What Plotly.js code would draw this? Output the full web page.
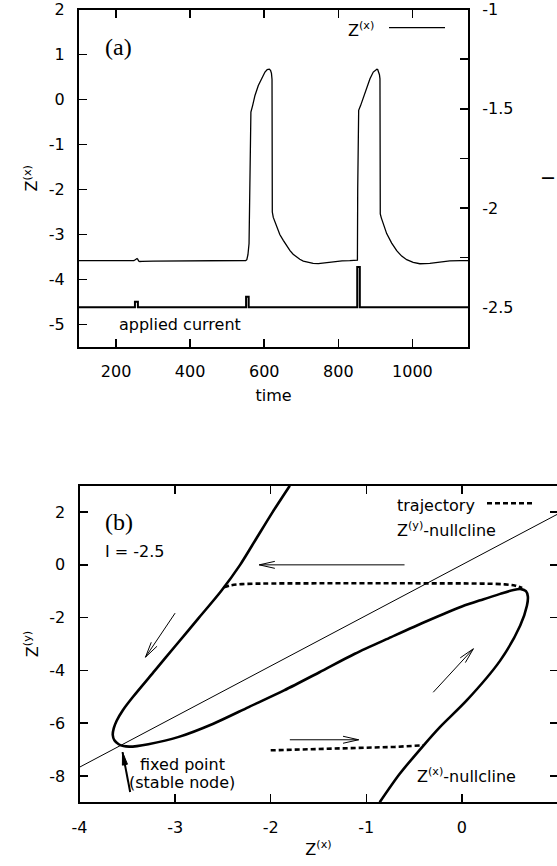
<!DOCTYPE html>
<html><head><meta charset="utf-8">
<script src="https://cdn.plot.ly/plotly-3.0.1.min.js"></script>
<style>html,body{margin:0;padding:0;overflow:hidden;background:#fff}#chart{width:560px;height:866px}</style>
</head><body><div id="chart"></div>
<script>
// ---------- panel (a): Z^(x) time series ----------
const timeZ = [100,200,248,252,254.5,256.5,258.5,261,264,270,300,400,500,550,553,556,559,561,562.5,564,568.8,575,584,593,602,608,613.6,617,619.5,621,621.5,621.8,624.4,633.6,642,651.4,660,669.5,678,687.6,696,705.4,718,732,746,760,786,810,831,848,851.5,852.3,853,854.9,860.3,867.4,876.5,885.4,894.3,900.8,904,906.2,909,911,912.4,912.9,913.2,916,921.3,930.5,944,957.5,971,984.5,1002,1020,1047,1074,1101,1130,1150];
const zx    = [-3.58,-3.58,-3.58,-3.56,-3.54,-3.535,-3.55,-3.59,-3.60,-3.595,-3.59,-3.585,-3.58,-3.578,-3.56,-3.45,-3.2,-2.0,-0.40,-0.28,-0.13,0.09,0.31,0.48,0.61,0.667,0.674,0.65,0.58,0.45,-1.0,-2.50,-2.62,-2.84,-3.0,-3.13,-3.25,-3.36,-3.44,-3.50,-3.55,-3.59,-3.62,-3.64,-3.645,-3.63,-3.60,-3.585,-3.58,-3.575,-3.57,-2.0,-0.32,-0.24,-0.13,0.05,0.27,0.46,0.61,0.667,0.675,0.667,0.62,0.55,0.46,-1.0,-2.54,-2.63,-2.76,-2.98,-3.19,-3.36,-3.48,-3.56,-3.62,-3.65,-3.64,-3.61,-3.585,-3.58,-3.58];
// applied current (right axis)
const timeI   = [100,251,251,259,259,551,551,558,558,851,851,858,858,1150];
const current = [-2.5,-2.5,-2.472,-2.472,-2.5,-2.5,-2.447,-2.447,-2.5,-2.5,-2.297,-2.297,-2.5,-2.5];
const xTicksA   = [200,400,600,800,1000];
const xLabelsA  = ['200','400','600','800','1000'];
const yTicksA   = [-5,-4,-3,-2,-1,0,1,2];
const yLabelsA  = ['-5','-4','-3','-2','-1','0','1','2'];
const y2TicksA  = [-2.5,-2,-1.5,-1];
const y2LabelsA = ['-2.5','-2','-1.5','-1'];
const y2MinorA  = [-2.25,-1.75,-1.25];

// ---------- panel (b): phase plane ----------
// Z^(x)-nullcline (thick solid; the trajectory runs along it)
const ncX = [-1.80,-1.98,-2.15,-2.32,-2.52,-2.75,-2.98,-3.21,-3.44,-3.545,-3.61,-3.642,-3.652,-3.635,-3.59,-3.54,-3.48,-3.40,-3.28,-2.97,-2.60,-2.23,-1.86,-1.49,-1.12,-0.74,-0.37,0.0,0.22,0.40,0.54,0.62,0.67,0.69,0.68,0.61,0.40,0.05,-0.23,-0.40,-0.65,-0.86];
const ncY = [3.0,2.0,1.0,0.0,-1.0,-2.0,-3.0,-4.0,-5.0,-5.5,-5.9,-6.2,-6.45,-6.65,-6.8,-6.87,-6.89,-6.87,-6.80,-6.53,-6.02,-5.39,-4.76,-4.07,-3.37,-2.74,-2.14,-1.58,-1.31,-1.10,-0.95,-0.92,-1.0,-1.2,-1.55,-2.30,-3.63,-5.14,-6.15,-6.84,-7.92,-9.0];
// trajectory jumps (dashed)
const trajTopX = [-2.49,-2.42,-2.3,-2.1,-1.5,-0.5,0.2,0.45,0.56,0.63];
const trajTopY = [-0.85,-0.78,-0.73,-0.71,-0.70,-0.70,-0.71,-0.74,-0.79,-0.88];
const trajBotX = [-2.0,-1.5,-1.0,-0.7,-0.40];
const trajBotY = [-7.03,-6.99,-6.95,-6.90,-6.84];
// Z^(y)-nullcline (straight line)
const zyNullX = [-4, 1];
const zyNullY = [-7.67, 1.92];
// direction arrows
const arrowTailX = [-0.60,-3.00,-0.30,-1.80];
const arrowTailY = [0.00,-1.83,-4.83,-6.63];
const arrowHeadX = [-2.12,-3.31,0.12,-1.08];
const arrowHeadY = [0.00,-3.50,-3.18,-6.63];
const fpArrowX = [-3.47,-3.55];
const fpArrowY = [-8.61,-7.10];
const xTicksB  = [-4,-3,-2,-1,0];
const xLabelsB = ['-4','-3','-2','-1','0'];
const yTicksB  = [-8,-6,-4,-2,0,2];
const yLabelsB = ['-8','-6','-4','-2','0','2'];

// ---------- geometry (pixels) ----------
const W = 560, H = 866;
const A = {l:79, r:468, t:9.5, b:347};
const B = {l:79.5, r:557.5, t:485.7, b:802.3};
const xRangeB = [-4, 1], yRangeB = [-9, 3];
const kx = (B.r - B.l) / (xRangeB[1] - xRangeB[0]);
const ky = (B.b - B.t) / (yRangeB[1] - yRangeB[0]);
const px = x => x / W, py = y => 1 - y / H;

function wings(tx, ty, hx, hy, L, ang) {
  const dx = (hx - tx) * kx, dy = (hy - ty) * ky;
  const n = Math.hypot(dx, dy), ux = -dx / n, uy = -dy / n;
  const out = [];
  for (const s of [1, -1]) {
    const c = Math.cos(ang), sn = Math.sin(s * ang);
    const bx = ux * c - uy * sn, by = ux * sn + uy * c;
    out.push([hx + bx * L / kx, hy + by * L / ky]);
  }
  return out;
}
const shaftX = [], shaftY = [], headX = [], headY = [];
for (let i = 0; i < arrowTailX.length; i++) {
  shaftX.push(arrowTailX[i], arrowHeadX[i], null);
  shaftY.push(arrowTailY[i], arrowHeadY[i], null);
  const w = wings(arrowTailX[i], arrowTailY[i], arrowHeadX[i], arrowHeadY[i], 16, 0.22);
  headX.push(w[0][0], arrowHeadX[i], w[1][0], null);
  headY.push(w[0][1], arrowHeadY[i], w[1][1], null);
}
const fw = wings(fpArrowX[0], fpArrowY[0], fpArrowX[1], fpArrowY[1], 13, 0.2);

const FONT = 'DejaVu Sans';
const blk = '#000';
const traces = [
  {x: timeZ, y: zx, xaxis: 'x', yaxis: 'y', mode: 'lines', line: {color: blk, width: 1.3}, name: 'Z(x)'},
  {x: timeI, y: current, xaxis: 'x', yaxis: 'y2', mode: 'lines', line: {color: blk, width: 2}, name: 'applied current'},
  {x: zyNullX, y: zyNullY, xaxis: 'x3', yaxis: 'y3', mode: 'lines', line: {color: blk, width: 1}, name: 'Z(y)-nullcline'},
  {x: ncX, y: ncY, xaxis: 'x3', yaxis: 'y3', mode: 'lines', line: {color: blk, width: 2.6, shape: 'spline', smoothing: 0.8}, name: 'Z(x)-nullcline'},
  {x: trajTopX, y: trajTopY, xaxis: 'x3', yaxis: 'y3', mode: 'lines', line: {color: blk, width: 2.6, dash: '5px,3px', shape: 'spline'}, name: 'trajectory'},
  {x: trajBotX, y: trajBotY, xaxis: 'x3', yaxis: 'y3', mode: 'lines', line: {color: blk, width: 2.6, dash: '5px,3px'}, name: 'trajectory'},
  {x: shaftX, y: shaftY, xaxis: 'x3', yaxis: 'y3', mode: 'lines', line: {color: blk, width: 1}, connectgaps: false},
  {x: headX, y: headY, xaxis: 'x3', yaxis: 'y3', mode: 'lines', line: {color: blk, width: 1}, connectgaps: false},
  {x: fpArrowX, y: fpArrowY, xaxis: 'x3', yaxis: 'y3', mode: 'lines', line: {color: blk, width: 2}},
  {x: [fw[0][0], fpArrowX[1], fw[1][0], fw[0][0]], y: [fw[0][1], fpArrowY[1], fw[1][1], fw[0][1]], xaxis: 'x3', yaxis: 'y3', mode: 'lines', fill: 'toself', fillcolor: blk, line: {color: blk, width: 1}}
];

const axBase = {
  showgrid: false, zeroline: false, showline: true, linecolor: blk, linewidth: 2,
  ticks: 'inside', ticklen: 8, tickwidth: 1.5, tickcolor: blk, tickmode: 'array',
  tickfont: {family: FONT, size: 16, color: blk}, ticklabelstandoff: 9,
  fixedrange: true
};
const titleFont = {family: FONT, size: 16, color: blk};
const layout = {
  width: W, height: H, margin: {l: 0, r: 0, t: 0, b: 0},
  paper_bgcolor: '#fff', plot_bgcolor: '#fff', showlegend: false,
  xaxis: Object.assign({}, axBase, {domain: [px(A.l), px(A.r)], anchor: 'y', range: [100, 1150], tickvals: xTicksA, ticktext: xLabelsA, mirror: 'ticks',
    title: {text: 'time', font: titleFont, standoff: 10}}),
  yaxis: Object.assign({}, axBase, {domain: [py(A.b), py(A.t)], anchor: 'x', range: [-5.5, 2], tickvals: yTicksA, ticktext: yLabelsA, mirror: false,
    title: {text: 'Z<sup>(x)</sup>', font: titleFont, standoff: 7}}),
  yaxis2: Object.assign({}, axBase, {overlaying: 'y', side: 'right', anchor: 'x', range: [-2.7, -1], tickvals: y2TicksA, ticktext: y2LabelsA,
    minor: {tickvals: y2MinorA, ticks: 'inside', ticklen: 8, tickwidth: 1.5, tickcolor: blk, showgrid: false},
    title: {text: 'I', font: titleFont, standoff: 30}}),
  xaxis3: Object.assign({}, axBase, {domain: [px(B.l), px(B.r)], anchor: 'y3', range: xRangeB, tickvals: xTicksB, ticktext: xLabelsB, mirror: 'ticks',
    title: {text: 'Z<sup>(x)</sup>', font: titleFont, standoff: 8}}),
  yaxis3: Object.assign({}, axBase, {domain: [py(B.b), py(B.t)], anchor: 'x3', range: yRangeB, tickvals: yTicksB, ticktext: yLabelsB, mirror: 'ticks',
    title: {text: 'Z<sup>(y)</sup>', font: titleFont, standoff: 7}}),
  shapes: [
    {type: 'line', xref: 'paper', yref: 'paper', x0: px(389), x1: px(445), y0: py(27.7), y1: py(27.7), line: {color: blk, width: 1.3}},
    {type: 'line', xref: 'paper', yref: 'paper', x0: px(487), x1: px(535), y0: py(503.3), y1: py(503.3), line: {color: blk, width: 2.6, dash: '5px,3px'}}
  ],
  annotations: [
    {text: '(a)', x: px(103), y: py(46.7), font: {family: 'Liberation Serif', size: 24, color: blk}},
    {text: 'Z<sup>(x)</sup>', x: px(346), y: py(29), font: {family: FONT, size: 16, color: blk}},
    {text: 'applied current', x: px(116.5), y: py(324.3), font: {family: FONT, size: 16, color: blk}},
    {text: '(b)', x: px(102.7), y: py(522.3), font: {family: 'Liberation Serif', size: 24, color: blk}},
    {text: 'I = -2.5', x: px(103.3), y: py(551), font: {family: FONT, size: 16, color: blk}},
    {text: 'trajectory', x: px(395), y: py(505), font: {family: FONT, size: 16, color: blk}},
    {text: 'Z<sup>(y)</sup>-nullcline', x: px(395), y: py(529), font: {family: FONT, size: 16, color: blk}},
    {text: 'fixed point', x: px(137.8), y: py(764), font: {family: FONT, size: 16, color: blk}},
    {text: '(stable node)', x: px(127.2), y: py(782.7), font: {family: FONT, size: 16, color: blk}},
    {text: 'Z<sup>(x)</sup>-nullcline', x: px(415), y: py(775), font: {family: FONT, size: 16, color: blk}}
  ].map(a => Object.assign({xref: 'paper', yref: 'paper', xanchor: 'left', yanchor: 'middle', showarrow: false}, a))
};

Plotly.newPlot('chart', traces, layout, {displayModeBar: false, staticPlot: true});
</script>
</body></html>
